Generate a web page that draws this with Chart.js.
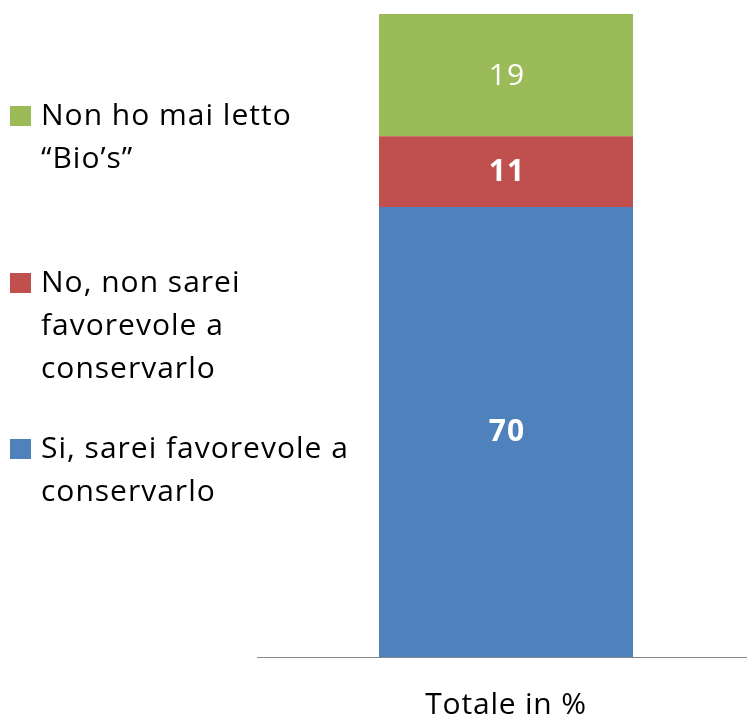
<!DOCTYPE html>
<html>
<head>
<meta charset="utf-8">
<script src="https://cdn.jsdelivr.net/npm/chart.js@4"></script>
<style>
  html, body { margin: 0; padding: 0; background: #fff; overflow: hidden; }
  #wrap { position: relative; width: 747px; height: 716px; overflow: hidden; }
</style>
</head>
<body>
<div id="wrap"><canvas id="chart" width="755" height="716"></canvas></div>
<script>
const categories = ['Totale in %'];
const seriesNames = ['Si, sarei favorevole a conservarlo', 'No, non sarei favorevole a conservarlo', 'Non ho mai letto “Bio’s”'];
const siValues = [70];
const noValues = [11];
const maiValues = [19];

const FONT = '"Open Sans", Lato, sans-serif';

// legend on the left, baseline of the first line of each entry
const legendItems = [
    { lines: ['Non ho mai letto', '“Bio’s”'], color: '#9BBB59', y: 125 },
    { lines: ['No, non sarei', 'favorevole a', 'conservarlo'], color: '#C0504D', y: 292 },
    { lines: ['Si, sarei favorevole a', 'conservarlo'], color: '#4F81BD', y: 458 }
];

// the original font is a bit wider, so add a little spacing
const spacing = {
    id: 'spacing',
    beforeDraw(chart) {
        chart.ctx.letterSpacing = '0.8px';
    }
};

const sideLegend = {
    id: 'sideLegend',
    afterDraw(chart) {
        const ctx = chart.ctx;
        ctx.save();
        ctx.letterSpacing = '1px';
        ctx.font = '30px ' + FONT;
        ctx.textBaseline = 'alphabetic';
        ctx.textAlign = 'left';
        legendItems.forEach(item => {
            ctx.fillStyle = item.color;
            ctx.fillRect(10, item.y - 19, 21, 20);
            ctx.fillStyle = '#000';
            item.lines.forEach((line, i) => {
                ctx.fillText(line, 41, item.y + i * 43);
            });
        });
        ctx.restore();
    }
};

const valueLabels = {
    id: 'valueLabels',
    afterDatasetsDraw(chart) {
        const ctx = chart.ctx;
        ctx.save();
        ctx.letterSpacing = '1px';
        ctx.fillStyle = '#fff';
        ctx.textAlign = 'center';
        ctx.textBaseline = 'middle';
        chart.data.datasets.forEach((ds, i) => {
            const meta = chart.getDatasetMeta(i);
            meta.data.forEach((bar, j) => {
                const mid = (bar.y + bar.base) / 2;
                ctx.font = (ds.boldLabel ? 'bold ' : '') + '30px ' + FONT;
                ctx.fillText(ds.data[j], bar.x + 1, mid + 1);
            });
        });
        ctx.restore();
    }
};

new Chart(document.getElementById('chart'), {
    type: 'bar',
    data: {
        labels: categories,
        datasets: [
            { label: seriesNames[0], data: siValues, backgroundColor: '#4F81BD', boldLabel: true },
            { label: seriesNames[1], data: noValues, backgroundColor: '#C0504D', boldLabel: true },
            { label: seriesNames[2], data: maiValues, backgroundColor: '#9BBB59', boldLabel: false }
        ]
    },
    options: {
        responsive: false,
        animation: false,
        layout: { padding: { left: 257, top: 14, right: 0, bottom: -29 } },
        datasets: { bar: { categoryPercentage: 1, barPercentage: 0.51 } },
        plugins: { legend: { display: false }, tooltip: { enabled: false } },
        scales: {
            x: {
                stacked: true,
                grid: { display: false },
                border: { color: '#868686', width: 1 },
                ticks: { color: '#000', padding: 27, font: { family: FONT, size: 30, lineHeight: '26px' } }
            },
            y: {
                stacked: true,
                display: false,
                min: 0,
                max: 100
            }
        }
    },
    plugins: [spacing, sideLegend, valueLabels]
});
</script>
</body>
</html>
